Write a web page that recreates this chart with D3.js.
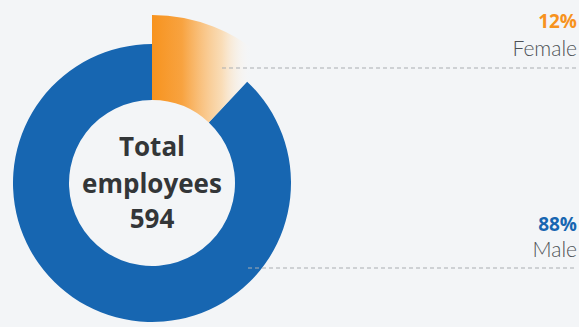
<!DOCTYPE html>
<html>
<head>
<meta charset="utf-8">
<script src="https://cdn.jsdelivr.net/npm/d3@7"></script>
<style>
  html, body { margin: 0; padding: 0; background: #f3f5f7; }
  svg { display: block; }
</style>
</head>
<body>
<svg id="chart" width="579" height="327"></svg>
<script>
// Workforce split by gender
const categories = ["Female", "Male"];
const shares = [12, 88];           // percent of headcount
const totalEmployees = 594;
const centerLines = ["Total", "employees", String(totalEmployees)];

const width = 579, height = 327;
const cx = 152, cy = 183;
const innerR = 83, outerR = 139, highlightR = 168;
const blue = "#1766b1", orange = "#f7931e";

const svg = d3.select("#chart");

// Horizontal fade for the highlighted wedge (coordinates relative to the donut centre)
const defs = svg.append("defs");
const grad = defs.append("linearGradient")
  .attr("id", "femaleFade")
  .attr("gradientUnits", "userSpaceOnUse")
  .attr("x1", 0).attr("y1", 0).attr("x2", 100).attr("y2", 0);
grad.append("stop").attr("offset", 0).attr("stop-color", orange).attr("stop-opacity", 1);
grad.append("stop").attr("offset", 0.3).attr("stop-color", "#f8a03a").attr("stop-opacity", 0.97);
grad.append("stop").attr("offset", 0.7).attr("stop-color", "#fcd29c").attr("stop-opacity", 0.7);
grad.append("stop").attr("offset", 1).attr("stop-color", "#ffffff").attr("stop-opacity", 0);

const data = categories.map((c, i) => ({ category: c, value: shares[i] }));

const pie = d3.pie().value(d => d.value).sort(null);
const arcs = pie(data);

const arcGen = d3.arc()
  .innerRadius(innerR)
  .outerRadius(d => d.data.category === "Female" ? highlightR : outerR);

const g = svg.append("g").attr("transform", `translate(${cx},${cy})`);

// Male ring first, then the highlighted female wedge on top
g.selectAll("path.slice")
  .data(arcs.slice().reverse())
  .join("path")
  .attr("class", "slice")
  .attr("d", arcGen)
  .attr("fill", d => d.data.category === "Female" ? "url(#femaleFade)" : blue);

// Center summary
const center = g.append("text")
  .attr("text-anchor", "middle")
  .attr("font-family", "'Open Sans', Lato, sans-serif")
  .attr("font-weight", 700)
  .attr("font-size", 26)
  .attr("fill", "#333638");
const baselines = [-27, 10, 45];
centerLines.forEach((t, i) => {
  center.append("tspan").attr("x", 0).attr("y", baselines[i]).text(t);
});

// Right-hand labels with dashed leader lines
const labels = [
  { pct: shares[0], name: categories[0], color: orange, pctY: 28, nameY: 56, lineY: 68, lineX: 222 },
  { pct: shares[1], name: categories[1], color: blue, pctY: 231, nameY: 257, lineY: 268, lineX: 248 }
];

const lab = svg.append("g").selectAll("g").data(labels).join("g");

lab.append("line")
  .attr("x1", d => d.lineX).attr("x2", width - 2)
  .attr("y1", d => d.lineY).attr("y2", d => d.lineY)
  .attr("stroke", "#a9adb1")
  .attr("stroke-width", 1)
  .attr("stroke-dasharray", "4,3");

lab.append("text")
  .attr("x", 577).attr("y", d => d.pctY)
  .attr("text-anchor", "end")
  .attr("font-family", "'Open Sans', Lato, sans-serif")
  .attr("font-weight", 700)
  .attr("font-size", 19)
  .attr("fill", d => d.color)
  .text(d => d.pct + "%");

lab.append("text")
  .attr("x", 577).attr("y", d => d.nameY)
  .attr("text-anchor", "end")
  .attr("font-family", "Lato, 'Open Sans', sans-serif")
  .attr("font-weight", 300)
  .attr("font-size", 21)
  .attr("fill", "#4d5155")
  .text(d => d.name);
</script>
</body>
</html>
